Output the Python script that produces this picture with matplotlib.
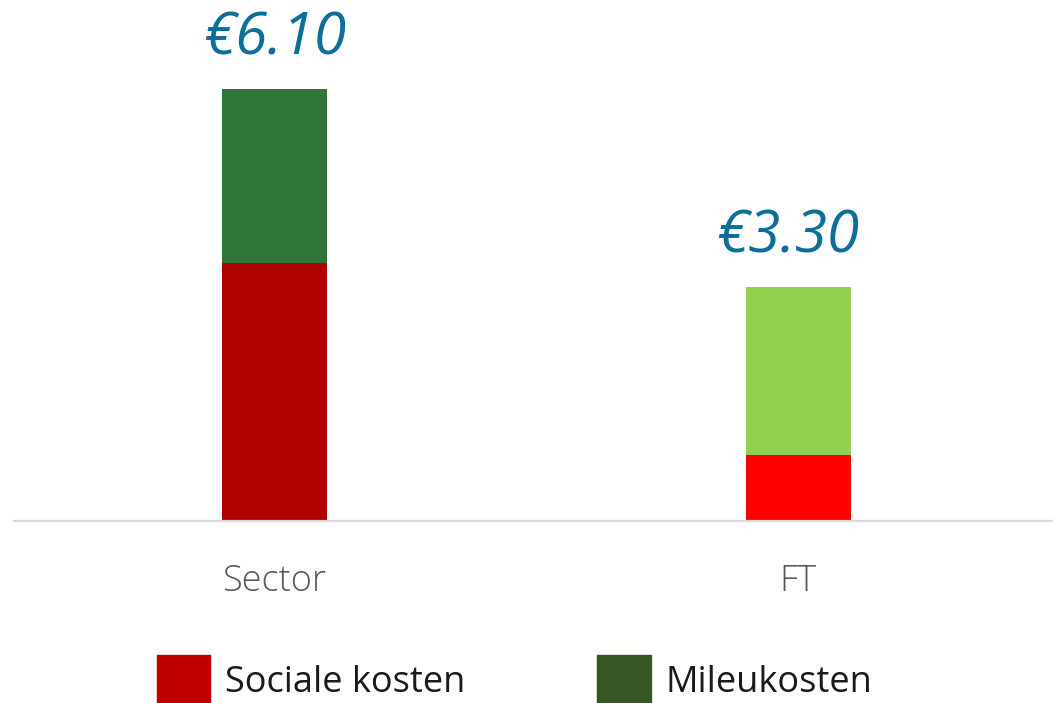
import matplotlib.pyplot as plt
from matplotlib.patches import Patch

# data
categories = ["Sector", "FT"]
sociale_kosten = [3.64, 0.93]
mileukosten = [2.46, 2.37]
totaal_labels = ["€6.10", "€3.30"]

# colours per bar (bottom, top) and for the legend
sociaal_kleur = ["#B00000", "#FF0000"]
milieu_kleur = ["#2E7537", "#92D050"]
legend_kleur = ["#C00000", "#375623"]

plt.rcParams['font.family'] = ['Open Sans', 'DejaVu Sans']

fig = plt.figure(figsize=(10.53, 7.03), dpi=100)
ax = fig.add_axes([14 / 1053, 1 - 521 / 703, 1 - 14 / 1053, 521 / 703])

x = list(range(len(categories)))
ax.bar(x, sociale_kosten, width=0.2, color=sociaal_kleur)
ax.bar(x, mileukosten, width=0.2, bottom=sociale_kosten, color=milieu_kleur)

# totals above the bars (the FT one sits a little left of centre in the original)
label_dx = [0, -8]
for i in x:
    top = sociale_kosten[i] + mileukosten[i]
    ax.annotate(totaal_labels[i], (i, top), xytext=(label_dx[i], 15), textcoords="offset points",
                ha="center", va="bottom", fontsize=42, style="italic", color="#0E6E9A")

ax.set_xlim(-0.497, 1.486)
ax.set_ylim(0, 7.357)

for side in ["top", "right", "left"]:
    ax.spines[side].set_visible(False)
ax.spines["bottom"].set_color("#D9D9D9")
ax.spines["bottom"].set_linewidth(1.6)
ax.set_yticks([])
ax.set_xticks(x)
ax.set_xticklabels(categories, fontsize=26, color="#595959", fontweight=300)
ax.tick_params(axis="x", length=0, pad=30)

handles = [Patch(color=legend_kleur[0], label="Sociale kosten"),
           Patch(color=legend_kleur[1], label="Mileukosten")]
leg = fig.legend(handles=handles, loc="lower left", bbox_to_anchor=(157 / 1053, -2 / 703), ncol=2,
                 frameon=False, fontsize=26, handlelength=1.47, handleheight=1.75,
                 handletextpad=0.42, columnspacing=3.65, borderaxespad=0, borderpad=0)
for t in leg.get_texts():
    t.set_color("#1A1A1A")

fig.savefig("out.png", dpi=100)
